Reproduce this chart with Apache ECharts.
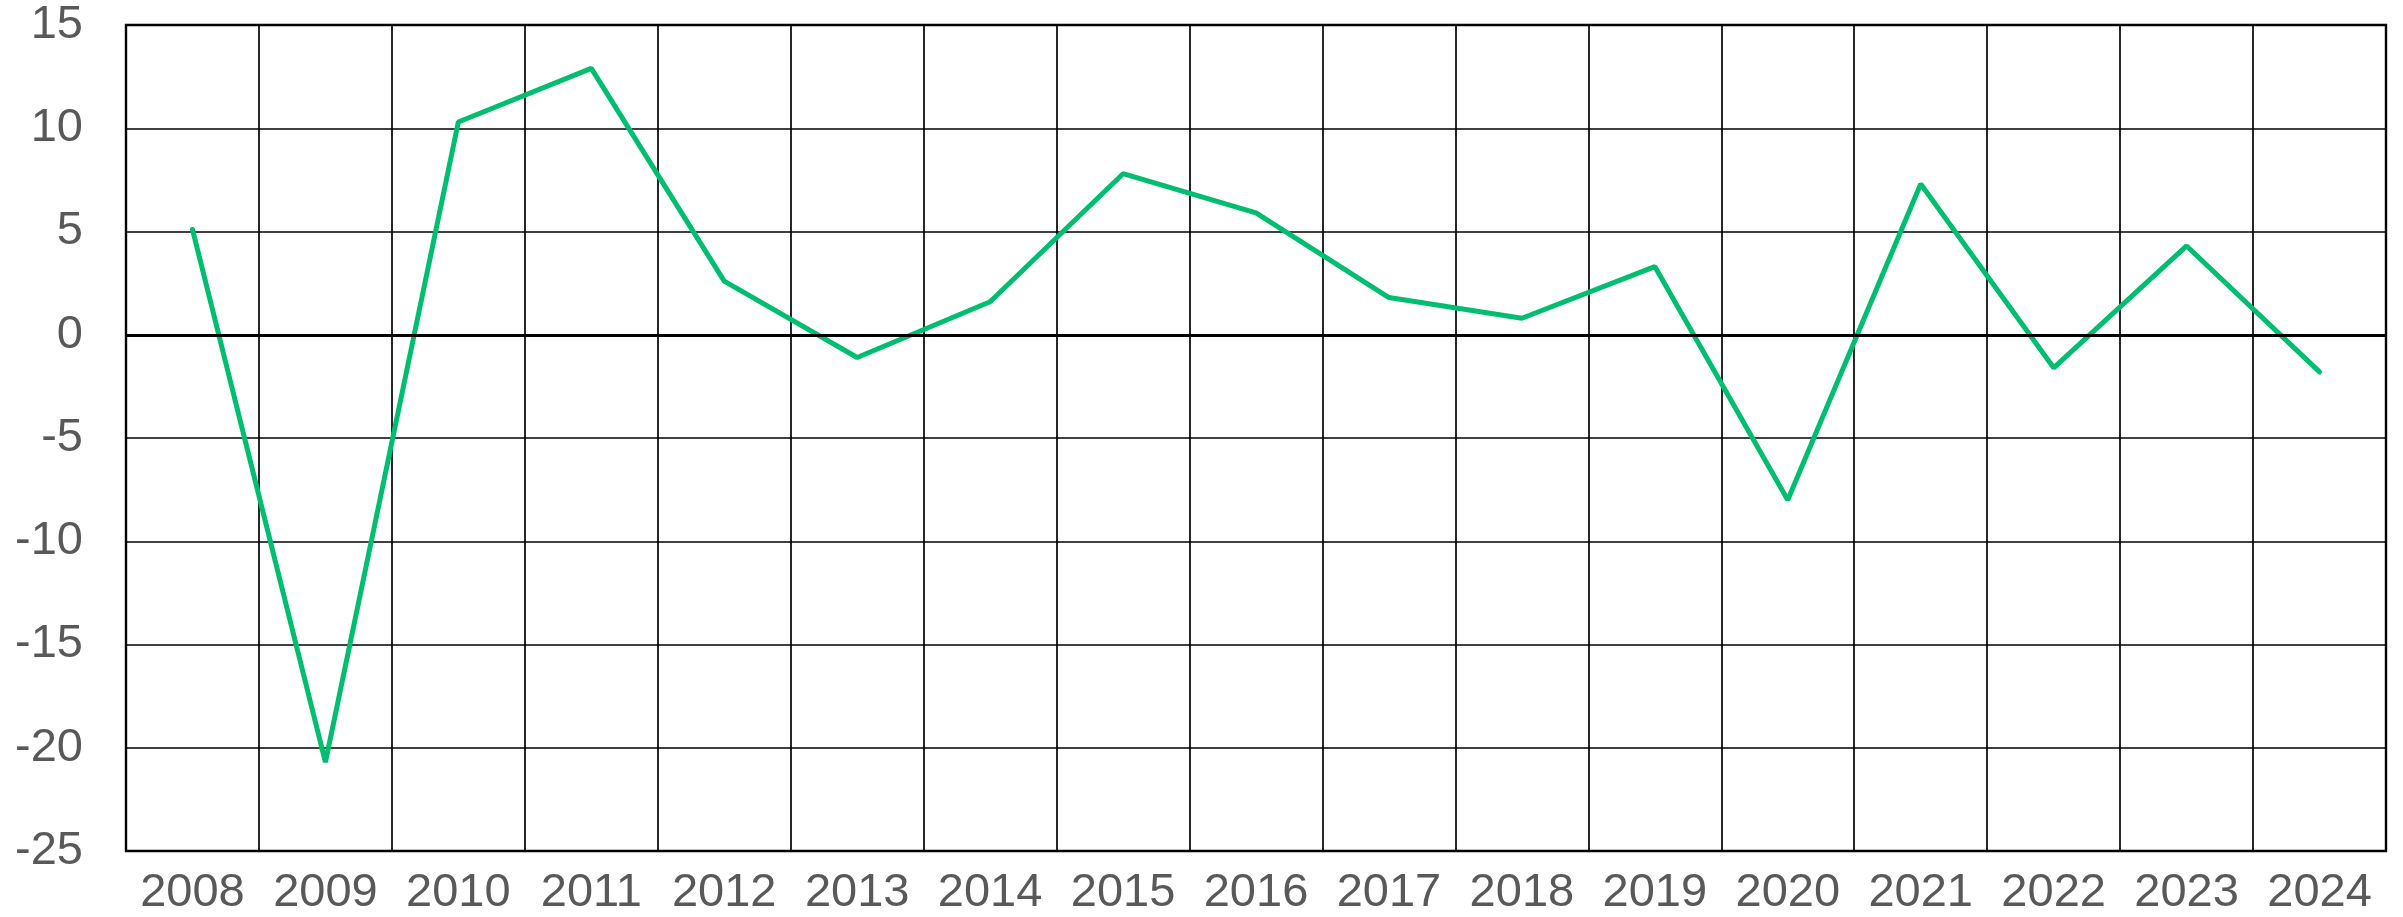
<!DOCTYPE html>
<html>
<head>
<meta charset="utf-8">
<script src="https://cdn.jsdelivr.net/npm/echarts@6/dist/echarts.min.js"></script>
<style>
  html, body { margin: 0; padding: 0; background: #fff; }
  #chart { width: 2403px; height: 917px; }
</style>
</head>
<body>
<div id="chart"></div>
<script>
// years on the x axis
const years = ['2008', '2009', '2010', '2011', '2012', '2013', '2014', '2015', '2016',
  '2017', '2018', '2019', '2020', '2021', '2022', '2023', '2024'];
// values
const values = [5.1, -20.7, 10.3, 12.9, 2.6, -1.1, 1.6, 7.8, 5.9,
  1.8, 0.8, 3.3, -8.0, 7.3, -1.6, 4.3, -1.8];
const yMin = -25;
const yMax = 15;
const yStep = 5;

const chart = echarts.init(document.getElementById('chart'));
chart.setOption({
  animation: false,
  backgroundColor: '#fff',
  grid: {
    left: 126, right: 17, top: 25, bottom: 66,
    show: true, borderColor: '#000', borderWidth: 2.4
  },
  xAxis: {
    type: 'category',
    data: years,
    boundaryGap: true,
    axisLine: { show: false },
    axisTick: { show: false },
    axisLabel: {
      color: '#595959', fontSize: 47, fontFamily: 'Liberation Sans, Arial',
      margin: 19, interval: 0
    },
    splitLine: { show: true, interval: 0, lineStyle: { color: '#000', width: 1.7 } }
  },
  yAxis: {
    type: 'value',
    min: yMin, max: yMax, interval: yStep,
    axisLine: { show: false },
    axisTick: { show: false },
    axisLabel: {
      color: '#595959', fontSize: 47, fontFamily: 'Liberation Sans, Arial',
      margin: 43
    },
    splitLine: { show: true, lineStyle: { color: '#000', width: 1.7 } }
  },
  series: [{
    type: 'line',
    data: values,
    symbol: 'none',
    lineStyle: { color: '#00BE70', width: 5, cap: 'round' },
    markLine: {
      silent: true,
      symbol: 'none',
      label: { show: false },
      lineStyle: { color: '#000', width: 3.2, type: 'solid' },
      data: [{ yAxis: 0 }]
    },
    z: 3
  }]
});
</script>
</body>
</html>
